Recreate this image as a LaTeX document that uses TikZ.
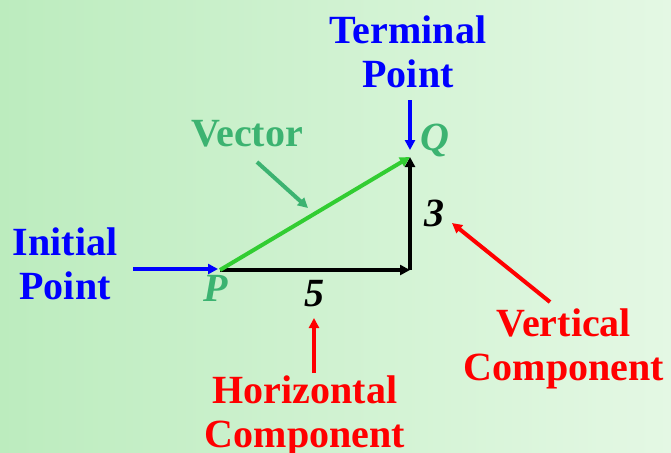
\documentclass[tikz,border=0pt]{standalone}
\usepackage{fontspec}
\setmainfont{Liberation Serif}[
  BoldFont={Liberation Serif Bold},
  ItalicFont={Liberation Serif Italic},
  BoldItalicFont={Liberation Serif Bold Italic}]
\usepackage{tikz}
\usetikzlibrary{arrows.meta}

\definecolor{bgleft}{RGB}{188,236,190}
\definecolor{bgright}{RGB}{228,248,228}
\definecolor{vecgreen}{RGB}{50,205,50}
\definecolor{labgreen}{RGB}{60,179,113}

\begin{document}
\begin{tikzpicture}[x=0.5pt, y=-0.5pt, font=\fontsize{20}{22}\selectfont\bfseries,
    >={Triangle[length=5pt,width=5pt]},
    lbl/.style={inner sep=0pt, align=center, anchor=north},
    pt/.style={inner sep=0pt, font=\fontsize{20}{22}\selectfont\bfseries\itshape},
    comp/.style={->, line width=2pt, black},
    vec/.style={->, line width=2pt, vecgreen},
    blueptr/.style={->, line width=1.6pt, blue},
    redptr/.style={->, line width=2pt, red},
    greenptr/.style={->, line width=2pt, labgreen}]

  % background
  \shade[left color=bgleft, right color=bgright] (0,0) rectangle (671,452);
  \useasboundingbox (0,0) rectangle (671,452);

  % the triangle
  \coordinate (P) at (220,270);
  \coordinate (R) at (410,270);
  \coordinate (Q) at (410,157);

  \draw[comp] (P) -- (R);
  \draw[comp] (R) -- (Q);
  \draw[vec] (P) -- (Q);

  \node[pt, labgreen] (p) at (216,288) {P};
  \node[pt, labgreen] (q) at (435,140) {Q};
  \node[pt] (h) at (314,294) {5};
  \node[pt] (v) at (434,213) {3};

  % labels
  \node[lbl, blue] (term) at (408,15) {Terminal\\Point};
  \node[lbl, blue] (init) at (65,227) {Initial\\Point};
  \node[lbl, labgreen] (vlab) at (247,120) {Vector};
  \node[lbl, red] (hcomp) at (305,375) {Horizontal\\Component};
  \node[lbl, red] (vcomp) at (564,308) {Vertical\\Component};

  % pointers
  \coordinate (t1) at (410,100);
  \coordinate (t2) at (410,150);
  \coordinate (i1) at (133,269);
  \coordinate (i2) at (218,269);
  \coordinate (g1) at (257,162);
  \coordinate (g2) at (308,208);
  \coordinate (h1) at (314,373);
  \coordinate (h2) at (314,318);
  \coordinate (r1) at (550,302);
  \coordinate (r2) at (452,223);

  \draw[blueptr] (t1) -- (t2);
  \draw[blueptr] (i1) -- (i2);
  \draw[greenptr] (g1) -- (g2);
  \draw[redptr] (h1) -- (h2);
  \draw[redptr] (r1) -- (r2);

\end{tikzpicture}
\end{document}
